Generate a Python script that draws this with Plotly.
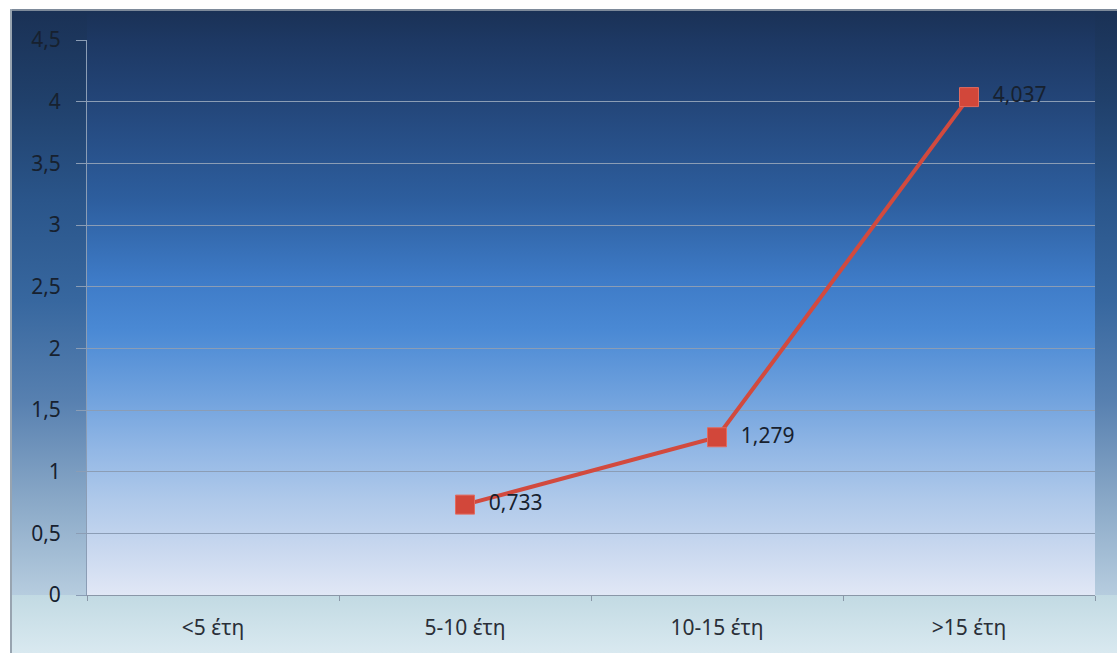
import base64
import plotly.graph_objects as go

# Chart data
categories = ["<5 έτη", "5-10 έτη", "10-15 έτη", ">15 έτη"]
values = [None, 0.733, 1.279, 4.037]
y_ticks = [0, 0.5, 1, 1.5, 2, 2.5, 3, 3.5, 4, 4.5]

W, H = 1117, 653
L, R, T, B = 87, 22, 40, 58
PW, PH = W - L - R, H - T - B

# value labels use a decimal comma, padded away from the marker
labels = [None if v is None else "\u00a0\u00a0" + f"{v:.3f}".replace(".", ",") for v in values]


def grad(gid, stops):
    s = "".join(f'<stop offset="{o}" stop-color="{c}"/>' for o, c in stops)
    return f'<linearGradient id="{gid}" x1="0" y1="0" x2="0" y2="1">{s}</linearGradient>'


# Background: dark navy at the top fading to pale lavender, darker side strips,
# light cyan band under the axis.
top, bot = 9, 597
span = bot - top
def off(py):
    return round((py - top) / span, 4)

plot_stops = [(off(9), "#1a3155"), (off(40), "#1d3863"), (off(100), "#234578"),
              (off(200), "#2d5e9e"), (off(280), "#3e7bc7"), (off(330), "#4a89d4"),
              (off(400), "#72a3de"), (off(450), "#92b7e5"), (off(500), "#afc9ea"),
              (off(550), "#c9d8ef"), (off(597), "#e2e8f6")]
side_stops = [(off(9), "#1a3155"), (off(100), "#20406b"), (off(200), "#2a558a"),
              (off(300), "#37679f"), (off(400), "#5780b0"), (off(500), "#89a8c7"),
              (off(597), "#b7cddf")]
bottom_stops = [(0, "#c2dae3"), (1, "#d9e9f0")]

svg = (
    f'<svg xmlns="http://www.w3.org/2000/svg" width="{W}" height="{H}" viewBox="0 0 {W} {H}">'
    f'<defs>{grad("p", plot_stops)}{grad("s", side_stops)}{grad("b", bottom_stops)}</defs>'
    f'<rect x="0" y="0" width="{W}" height="{H}" fill="#ffffff"/>'
    f'<rect x="{L}" y="{top}" width="{W - R - L}" height="{span}" fill="url(#p)"/>'
    f'<rect x="10" y="{top}" width="{L - 10}" height="{span}" fill="url(#s)"/>'
    f'<rect x="{W - R}" y="{top}" width="{R}" height="{span}" fill="url(#s)"/>'
    f'<rect x="10" y="{H - B}" width="{W - 10}" height="{B}" fill="url(#b)"/>'
    f'<rect x="10" y="{top}" width="{W - 10}" height="2" fill="#7d8a9a"/>'
    f'<rect x="10" y="{top}" width="2" height="{H - top}" fill="#98a4b0"/>'
    '</svg>'
)
bg_src = "data:image/svg+xml;base64," + base64.b64encode(svg.encode("utf-8")).decode("ascii")

font = "Noto Sans, Open Sans, DejaVu Sans, sans-serif"

fig = go.Figure()
fig.add_trace(go.Scatter(
    x=categories,
    y=values,
    mode="lines+markers+text",
    line=dict(color="#d24a3e", width=4),
    marker=dict(symbol="square", size=19, color="#d2473a",
                line=dict(color="#e26a5e", width=1)),
    text=labels,
    textposition="middle right",
    textfont=dict(family=font, size=21, color="#17212f"),
    cliponaxis=False,
    showlegend=False,
    hoverinfo="x+y",
))

fig.update_layout(
    width=W, height=H,
    margin=dict(l=L, r=R, t=T, b=B),
    paper_bgcolor="#ffffff",
    plot_bgcolor="rgba(0,0,0,0)",
    separators=", ",
    font=dict(family=font, size=21, color="#17212f"),
    images=[dict(
        source=bg_src, xref="paper", yref="paper",
        x=-L / PW, y=(PH + T) / PH, sizex=W / PW, sizey=H / PH,
        xanchor="left", yanchor="top", sizing="stretch", layer="below",
    )],
    xaxis=dict(
        type="category", categoryorder="array", categoryarray=categories,
        range=[-0.5, len(categories) - 0.5],
        showgrid=False, zeroline=False,
        showline=True, linecolor="#8a97a8", linewidth=1,
        ticks="outside", tickson="boundaries", ticklen=5, tickcolor="#8a97a8",
        tickfont=dict(family=font, size=21, color="#2a2f38"),
        ticklabelstandoff=14,
        fixedrange=True,
    ),
    yaxis=dict(
        range=[0, 4.5], tickvals=y_ticks,
        showgrid=True, gridcolor="#8b9db5", gridwidth=1,
        zeroline=False,
        showline=True, linecolor="#8b9db5", linewidth=1,
        ticks="outside", ticklen=10, tickcolor="#8b9db5",
        tickfont=dict(family=font, size=21, color="#17212f"),
        ticklabelstandoff=11,
        fixedrange=True,
    ),
)

fig.write_html("out.html")
